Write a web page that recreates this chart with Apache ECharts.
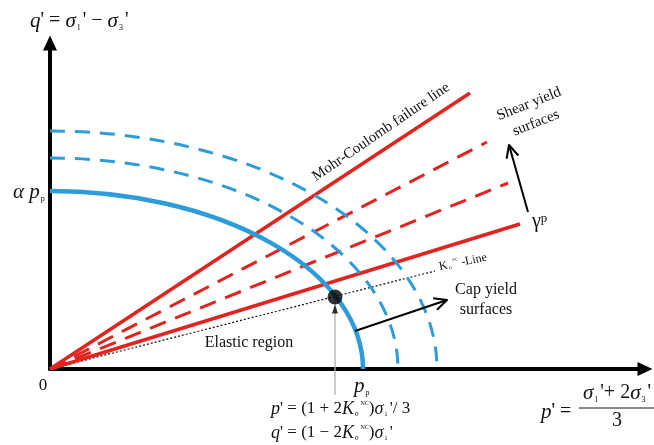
<!DOCTYPE html>
<html>
<head>
<meta charset="utf-8">
<script src="https://cdn.jsdelivr.net/npm/echarts@6/dist/echarts.min.js"></script>
<style>
  html, body { margin: 0; padding: 0; background: #fff; }
  #chart { width: 654px; height: 445px; }
</style>
</head>
<body>
<div id="chart"></div>
<script>
// Stress-path schematic in p'-q' space (arbitrary stress units, origin at 0)
const capPp     = [313, 348, 387];          // p' where each cap yield surface meets the p' axis
const capTop    = [178, 211, 238];          // q' where each cap meets the q' axis (alpha * p_p)
const capDashed = [false, true, true];

const shearEnd    = [[420, 276], [437, 227], [458, 186], [470, 145]]; // far ends of the shear yield lines
const shearDashed = [false, true, true, false];

const k0End       = [385, 98];              // far end of the K0-NC line
const stressPoint = [285, 72];              // (1+2K0)σ1'/3 , (1-2K0)σ1'
const stressFoot  = -26;                    // guide line runs down below the p' axis

const capArrow   = [305, 38, 397, 69];      // cap hardening direction
const shearArrow = [478, 157, 459, 224];    // shear hardening direction (γ^p)

const RED = '#e3231e';
const BLUE = '#2d9cd8';
const SERIF = '"Liberation Serif", "DejaVu Serif", serif';

const chart = echarts.init(document.getElementById('chart'), null, { renderer: 'canvas' });

function arrowRender(params, api) {
  const a = api.coord([api.value(0), api.value(1)]);
  const b = api.coord([api.value(2), api.value(3)]);
  const ang = Math.atan2(b[1] - a[1], b[0] - a[0]);
  const L = 14, w = 0.45;
  const p1 = [b[0] - L * Math.cos(ang - w), b[1] - L * Math.sin(ang - w)];
  const p2 = [b[0] - L * Math.cos(ang + w), b[1] - L * Math.sin(ang + w)];
  return {
    type: 'group',
    children: [
      { type: 'line', shape: { x1: a[0], y1: a[1], x2: b[0], y2: b[1] },
        style: { stroke: '#000', lineWidth: 2 } },
      { type: 'polyline', shape: { points: [p1, b, p2] },
        style: { stroke: '#000', lineWidth: 2, fill: null, lineJoin: 'round' } }
    ]
  };
}

function capRender(params, api) {
  const pp = api.value(0), top = api.value(1), dashed = api.value(2);
  const o = api.coord([0, 0]);
  const s = api.coord([0, top]);
  const e = api.coord([pp, 0]);
  const rx = e[0] - o[0], ry = o[1] - s[1];
  return {
    type: 'path',
    shape: { pathData: 'M' + s[0] + ' ' + s[1] + ' A' + rx + ' ' + ry + ' 0 0 1 ' + e[0] + ' ' + e[1] },
    style: {
      stroke: BLUE, fill: null,
      lineWidth: dashed ? 3 : 4.5,
      lineDash: dashed ? [15, 10] : null
    }
  };
}

const series = [];

// shear yield lines (Mohr-Coulomb failure line is the first, steepest one)
shearEnd.forEach(function (end, i) {
  series.push({
    type: 'line',
    data: [[0, 0], end],
    showSymbol: false,
    silent: true,
    z: 3,
    lineStyle: {
      color: RED,
      width: shearDashed[i] ? 3 : 3.5,
      type: shearDashed[i] ? [17, 10] : 'solid',
      cap: 'butt'
    }
  });
});

// K0-NC line
series.push({
  type: 'line',
  data: [[0, 0], k0End],
  showSymbol: false,
  silent: true,
  z: 2,
  lineStyle: { color: '#111', width: 1.2, type: [2, 2] }
});

// cap yield surfaces
series.push({
  type: 'custom',
  renderItem: capRender,
  data: capPp.map(function (p, i) { return [p, capTop[i], capDashed[i] ? 1 : 0]; }),
  silent: true,
  z: 4
});

// vertical guide from the stress point
series.push({
  type: 'line',
  data: [[stressPoint[0], stressFoot], stressPoint],
  showSymbol: false,
  silent: true,
  clip: false,
  z: 2,
  lineStyle: { color: '#b0b0b0', width: 1.3 }
});
series.push({
  type: 'scatter',
  data: [stressPoint],
  symbol: 'triangle',
  symbolSize: [6, 9],
  symbolOffset: [0, 12],
  itemStyle: { color: '#000' },
  silent: true,
  z: 5
});

// stress point
series.push({
  type: 'scatter',
  data: [stressPoint],
  symbolSize: 15,
  itemStyle: { color: '#000' },
  silent: true,
  z: 6
});

// hardening arrows
series.push({
  type: 'custom',
  renderItem: arrowRender,
  data: [capArrow, shearArrow],
  silent: true,
  z: 6
});

function txt(x, y, text, opts) {
  opts = opts || {};
  return {
    type: 'text',
    x: x, y: y,
    rotation: opts.rotation || 0,
    z: 10,
    style: Object.assign({
      text: text,
      fill: '#111',
      fontFamily: SERIF,
      fontSize: opts.size || 15,
      fontStyle: opts.italic ? 'italic' : 'normal',
      align: opts.align || 'left',
      textAlign: opts.align || 'left',
      verticalAlign: 'middle',
      textVerticalAlign: 'middle',
      rich: opts.rich
    }, opts.extra || {})
  };
}

function richSet(size) {
  return {
    i: { fontFamily: SERIF, fontStyle: 'italic', fontSize: size + 1, fill: '#111' },
    n: { fontFamily: SERIF, fontSize: size, fill: '#111' },
    s: { fontFamily: SERIF, fontSize: Math.round(size * 0.4), fill: '#111', verticalAlign: 'bottom', padding: [0, 2, 0, 1] },
    u: { fontFamily: SERIF, fontSize: Math.round(size * 0.35), fill: '#111', verticalAlign: 'top' },
    ui: { fontFamily: SERIF, fontSize: Math.round(size * 0.6), fill: '#111', verticalAlign: 'top' }
  };
}

const graphics = [
  // axis titles
  txt(30, 21, "{i|q}{n|' = }{i|σ}{s|1}{n|' − }{i|σ}{s|3}{n|'}", { size: 20, rich: richSet(20) }),
  txt(541, 412, "{i|p}{n|' = }", { size: 20, rich: richSet(20) }),
  txt(617, 393, "{i|σ}{s|1}{n|'+ 2}{i|σ}{s|3}{n|'}", { size: 20, align: 'center', rich: richSet(20) }),
  { type: 'line', shape: { x1: 579, y1: 408, x2: 654, y2: 408 }, style: { stroke: '#111', lineWidth: 1 }, z: 10 },
  txt(617, 421, '3', { size: 20, align: 'center' }),

  // axis marks
  txt(13, 192, "{i|α p}{s|p}", { size: 20, rich: richSet(20) }),
  txt(43, 386, '0', { size: 17, align: 'center' }),
  txt(354, 386, "{i|p}{s|p}", { size: 20, rich: richSet(20) }),

  // stress point coordinates
  txt(271, 409, "{i|p}{n|' = (1 + 2}{i|K}{s|0}{u|NC}{n|)}{i|σ}{s|1}{n|'/ 3}", { size: 17, rich: richSet(17) }),
  txt(271, 433, "{i|q}{n|' = (1 − 2}{i|K}{s|0}{u|NC}{n|)}{i|σ}{s|1}{n|'}", { size: 17, rich: richSet(17) }),

  // annotations
  txt(249, 343, 'Elastic region', { size: 16, align: 'center' }),
  txt(486, 290, 'Cap yield', { size: 16, align: 'center' }),
  txt(486, 310, 'surfaces', { size: 16, align: 'center' }),
  txt(439, 267, "{n|K}{s|0}{u|NC}{n| -Line}", { size: 11, rotation: 0.2, rich: richSet(12) }),
  txt(381, 132, 'Mohr-Coulomb failure line', { size: 15, align: 'center', rotation: 0.6 }),
  txt(529, 104, 'Shear yield', { size: 15, align: 'center', rotation: 0.38 }),
  txt(536, 123, 'surfaces', { size: 15, align: 'center', rotation: 0.38 }),
  txt(532, 222, "{g|γ}{ui|p}", {
    size: 20,
    rich: {
      g: { fontFamily: SERIF, fontSize: 20, fill: '#111' },
      ui: { fontFamily: SERIF, fontSize: 13, fill: '#111', verticalAlign: 'top' }
    }
  })
];

chart.setOption({
  animation: false,
  backgroundColor: '#fff',
  grid: { left: 50, right: 9, top: 43, bottom: 76, containLabel: false },
  xAxis: {
    type: 'value', min: 0, max: 595,
    axisLine: { show: true, onZero: false, symbol: ['none', 'triangle'], symbolSize: [14, 15],
      lineStyle: { color: '#000', width: 4 } },
    axisTick: { show: false }, axisLabel: { show: false }, splitLine: { show: false }
  },
  yAxis: {
    type: 'value', min: 0, max: 326,
    axisLine: { show: true, onZero: false, symbol: ['none', 'triangle'], symbolSize: [14, 15],
      lineStyle: { color: '#000', width: 4 } },
    axisTick: { show: false }, axisLabel: { show: false }, splitLine: { show: false }
  },
  series: series,
  graphic: graphics
});
</script>
</body>
</html>
